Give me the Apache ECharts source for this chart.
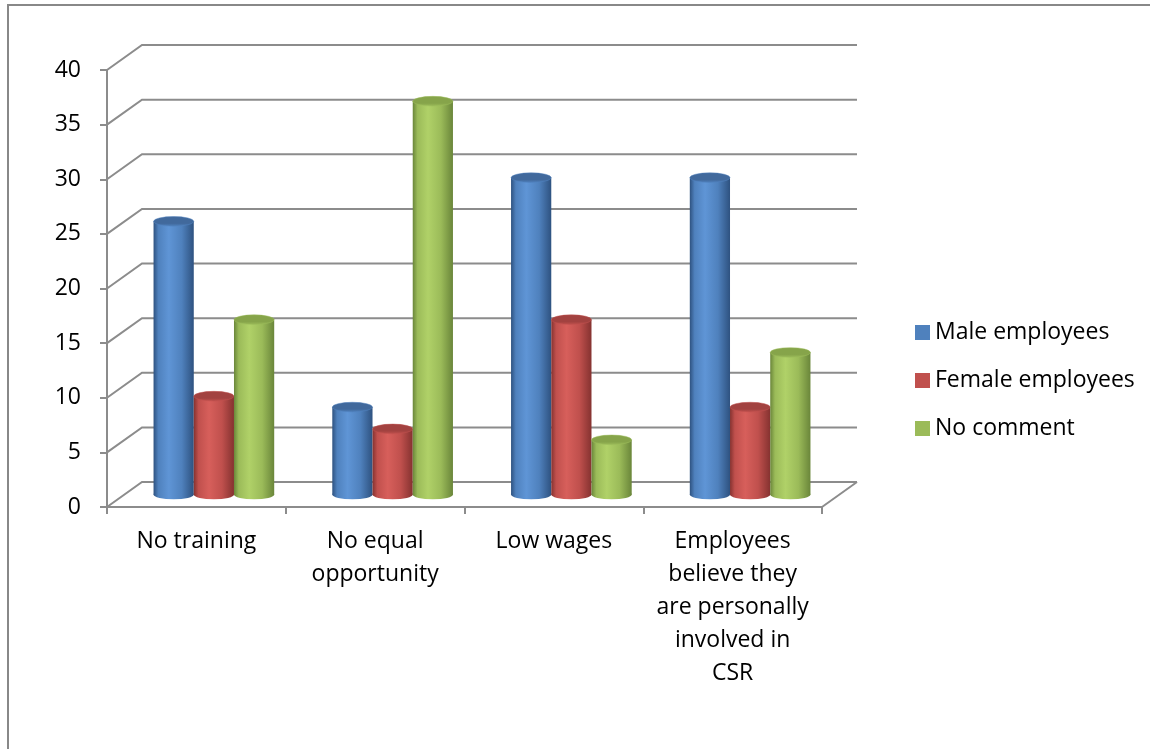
<!DOCTYPE html>
<html>
<head>
<meta charset="utf-8">
<script src="https://cdn.jsdelivr.net/npm/echarts@6/dist/echarts.min.js"></script>
<style>
html,body{margin:0;padding:0;background:#fff;}
#frame{position:absolute;left:7px;top:4px;width:1143px;height:745px;border-left:2px solid #888;border-top:2px solid #888;box-sizing:border-box;}
#chart{position:absolute;left:0;top:0;width:1150px;height:749px;}
</style>
</head>
<body>
<div id="frame"></div>
<div id="chart"></div>
<script>
// ---- data ----
const categories = ["No training", "No equal\nopportunity", "Low wages", "Employees\nbelieve they\nare personally\ninvolved in\nCSR"];
const seriesNames = ["Male employees", "Female employees", "No comment"];
const maleValues = [25, 8, 29, 29];
const femaleValues = [9, 6, 16, 8];
const noCommentValues = [16, 36, 5, 13];
const yTicks = [0, 5, 10, 15, 20, 25, 30, 35, 40];

// ---- style ----
const DX = 35, DY = 25;
const FONT = "'Open Sans', 'Noto Sans', sans-serif";
const FS = 23;
const palettes = [
  {base: '#4F81BD', light: '#5f95d6', dark: '#2e5280', top: '#41699c'},
  {base: '#C0504D', light: '#d75f5b', dark: '#853230', top: '#a24240'},
  {base: '#9BBB59', light: '#b0d168', dark: '#6a863a', top: '#86a44a'}
];
const allValues = [maleValues, femaleValues, noCommentValues];

function bodyGrad(p) {
  return new echarts.graphic.LinearGradient(0, 0, 1, 0, [
    {offset: 0, color: p.dark},
    {offset: 0.12, color: p.base},
    {offset: 0.38, color: p.light},
    {offset: 0.7, color: p.base},
    {offset: 1, color: p.dark}
  ]);
}
function topGrad(p) {
  return new echarts.graphic.LinearGradient(0, 0, 0, 1, [
    {offset: 0, color: p.top},
    {offset: 0.7, color: p.top},
    {offset: 1, color: p.base}
  ]);
}

function cylinderRenderer(idx) {
  const p = palettes[idx];
  return function (params, api) {
    const cat = api.value(0), val = api.value(1);
    const topPt = api.coord([cat, val]);
    const basePt = api.coord([cat, 0]);
    const band = api.size([1, 0])[0];
    const w = band * 0.225;
    const r = w / 2;
    const ry = w * 0.12;
    const cx = topPt[0] + (idx - 1) * w + DX / 2;
    const ty = topPt[1] - DY / 2;
    const by = basePt[1] - DY / 2;
    return {
      type: 'group',
      children: [
        {type: 'circle', shape: {cx: 0, cy: 0, r: r}, x: cx, y: by, scaleY: ry / r, style: {fill: bodyGrad(p)}},
        {type: 'rect', shape: {x: cx - r, y: ty, width: w, height: by - ty}, style: {fill: bodyGrad(p)}},
        {type: 'circle', shape: {cx: 0, cy: 0, r: r}, x: cx, y: ty, scaleY: ry / r, style: {fill: topGrad(p), stroke: p.base, lineWidth: 0.8}}
      ]
    };
  };
}

function wallRenderer(params, api) {
  const cs = params.coordSys;
  const v = api.value(0);
  const y = api.coord([0, v])[1];
  const x0 = cs.x, x1 = cs.x + cs.width;
  const children = [{
    type: 'polyline',
    shape: {points: [[x0, y], [x0 + DX, y - DY], [x1 + DX, y - DY]]},
    style: {stroke: '#8c8c8c', lineWidth: 2, fill: null}
  }];
  if (v === 0) {
    children.push({
      type: 'line',
      shape: {x1: x1, y1: y, x2: x1 + DX, y2: y - DY},
      style: {stroke: '#8c8c8c', lineWidth: 2}
    });
  }
  return {type: 'group', children: children};
}

const chart = echarts.init(document.getElementById('chart'), null, {renderer: 'canvas'});

const series = [{
  type: 'custom',
  name: 'walls',
  silent: true,
  z: 1,
  data: yTicks.map(v => [v]),
  encode: {y: 0},
  renderItem: wallRenderer
}];
seriesNames.forEach((name, i) => {
  series.push({
    type: 'custom',
    name: name,
    z: 5 + i,
    itemStyle: {color: palettes[i].base},
    data: allValues[i].map((v, k) => [k, v]),
    encode: {x: 0, y: 1},
    renderItem: cylinderRenderer(i)
  });
});

chart.setOption({
  animation: false,
  backgroundColor: 'transparent',
  legend: {
    data: seriesNames.map(n => ({name: n, icon: 'rect'})),
    orient: 'vertical',
    left: 910,
    top: 316,
    itemWidth: 15,
    itemHeight: 15,
    itemGap: 25,
    textStyle: {fontFamily: FONT, fontSize: FS, color: '#000', lineHeight: 23}
  },
  grid: {left: 107, right: 328, top: 70, bottom: 242, containLabel: false},
  xAxis: {
    type: 'category',
    data: categories,
    axisLine: {lineStyle: {color: '#8c8c8c', width: 2}},
    axisTick: {show: true, length: 7, lineStyle: {color: '#8c8c8c', width: 2}},
    axisLabel: {fontFamily: FONT, fontSize: FS, color: '#000', lineHeight: 33, margin: 18, interval: 0}
  },
  yAxis: {
    type: 'value',
    min: 0,
    max: 40,
    interval: 5,
    axisLine: {show: true, lineStyle: {color: '#8c8c8c', width: 2}},
    axisTick: {show: true, length: 7, lineStyle: {color: '#8c8c8c', width: 2}},
    splitLine: {show: false},
    axisLabel: {fontFamily: FONT, fontSize: FS, color: '#000', margin: 26}
  },
  series: series
});
</script>
</body>
</html>
